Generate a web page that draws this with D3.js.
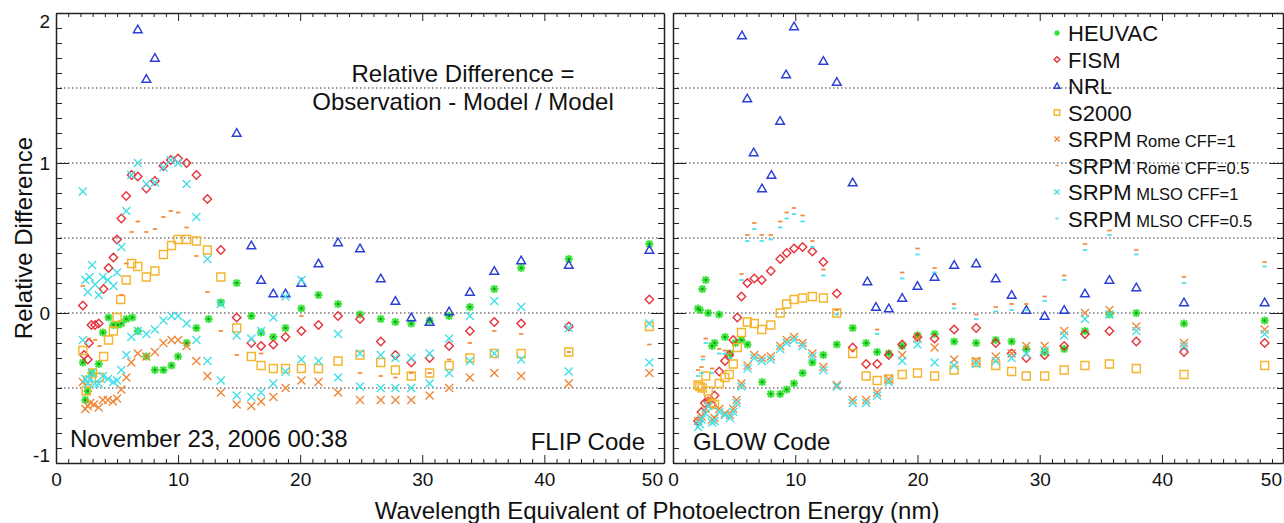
<!DOCTYPE html>
<html>
<head>
<meta charset="utf-8">
<title>Relative Difference</title>
<script src="https://cdn.jsdelivr.net/npm/d3@7"></script>
<style>
    body { margin: 0; background: #fff; }
    svg { display: block; font-family: "Liberation Sans", Arial, sans-serif; }
    .axis path, .axis line { stroke: #222; }
    .axis .domain { stroke-width: 1.5; }
    .axis text { font-size: 19px; fill: #111; }
</style>
</head>
<body>
<svg width="1284" height="523"></svg>
<script>
    // ---- data: [wavelength nm, relative difference] ----
    // FLIP code panel
    var flipHeuvac = [[2.2,-0.33],[2.4,-0.58],[2.6,-0.52],[2.9,-0.40],[3.5,-0.34],[3.84,-0.13],[4.3,-0.03],[4.7,-0.08],[5.07,-0.08],[5.35,-0.07],[5.76,-0.04],[6.25,-0.03],[6.7,-0.12],[7.4,-0.29],[8.1,-0.38],[8.8,-0.38],[9.46,-0.35],[10.0,-0.29],[10.7,-0.20],[11.5,-0.10],[12.5,-0.04],[13.5,0.07],[14.8,0.20],[16.0,-0.02],[16.8,-0.13],[17.8,-0.16],[18.8,-0.10],[20.1,0.03],[21.5,0.12],[23.1,0.06],[24.9,-0.01],[26.6,-0.04],[27.8,-0.06],[29.1,-0.07],[30.6,-0.05],[32.2,-0.02],[33.9,0.04],[35.9,0.16],[38.1,0.30],[42.0,0.36],[48.6,0.46]];
    var flipFism = [[2.2,0.05],[2.3,-0.28],[2.6,-0.31],[2.7,-0.20],[2.9,-0.08],[3.2,-0.08],[3.5,-0.07],[3.9,0.16],[4.3,0.30],[4.7,0.37],[5.0,0.49],[5.35,0.63],[5.75,0.78],[6.2,0.92],[6.7,0.91],[7.4,0.83],[8.1,0.88],[8.8,0.98],[9.4,1.02],[10.0,1.03],[10.7,1.0],[11.5,0.92],[12.4,0.76],[13.5,0.42],[14.8,-0.03],[16.0,-0.2],[16.8,-0.22],[17.8,-0.21],[18.8,-0.16],[20.1,-0.12],[21.5,-0.08],[23.1,-0.02],[24.9,-0.04],[26.6,-0.19],[27.8,-0.28],[29.1,-0.33],[30.6,-0.30],[32.2,-0.22],[33.9,-0.12],[35.9,-0.06],[38.1,-0.07],[42.0,-0.09],[48.6,0.09]];
    var flipNrl = [[6.7,1.89],[7.4,1.56],[8.1,1.70],[14.8,1.20],[16.0,0.45],[16.8,0.22],[17.8,0.13],[18.8,0.13],[20.1,0.20],[21.5,0.33],[23.1,0.47],[24.9,0.43],[26.6,0.23],[27.8,0.08],[29.1,-0.03],[30.6,-0.06],[32.2,0.01],[33.9,0.14],[35.9,0.28],[38.1,0.35],[42.0,0.32],[48.6,0.42]];
    var flipS2000 = [[2.2,-0.25],[2.47,-0.52],[2.6,-0.45],[3.0,-0.40],[3.55,-0.43],[3.9,-0.29],[4.3,-0.18],[4.7,-0.12],[5.0,-0.03],[5.3,0.09],[5.75,0.22],[6.2,0.33],[6.7,0.31],[7.4,0.24],[8.1,0.28],[8.8,0.39],[9.46,0.45],[10.0,0.49],[10.7,0.49],[11.5,0.48],[12.4,0.42],[13.5,0.24],[14.8,-0.10],[16.0,-0.29],[16.8,-0.35],[17.8,-0.37],[18.8,-0.37],[20.1,-0.37],[21.5,-0.37],[23.1,-0.32],[24.9,-0.28],[26.6,-0.33],[27.8,-0.38],[29.1,-0.42],[30.6,-0.40],[32.2,-0.35],[33.9,-0.30],[35.9,-0.27],[38.1,-0.27],[42.0,-0.26],[48.6,-0.09]];
    var flipRome1 = [[2.2,-0.46],[2.4,-0.64],[2.6,-0.62],[2.8,-0.60],[3.1,-0.61],[3.5,-0.63],[3.84,-0.58],[4.25,-0.58],[4.66,-0.59],[5.0,-0.57],[5.35,-0.51],[5.76,-0.43],[6.17,-0.33],[6.7,-0.27],[7.4,-0.29],[8.1,-0.26],[8.8,-0.20],[9.46,-0.18],[10.0,-0.18],[10.7,-0.22],[11.5,-0.32],[12.4,-0.42],[13.5,-0.53],[14.8,-0.61],[16.0,-0.62],[16.8,-0.59],[17.8,-0.56],[18.8,-0.50],[20.1,-0.45],[21.5,-0.46],[23.1,-0.53],[24.9,-0.58],[26.6,-0.58],[27.8,-0.58],[29.1,-0.58],[30.6,-0.55],[32.2,-0.50],[33.9,-0.43],[35.9,-0.40],[38.1,-0.42],[42.0,-0.47],[48.6,-0.40]];
    var flipRome05 = [[2.2,0.18],[2.7,-0.17],[3.2,-0.18],[3.56,-0.22],[5.35,0.12],[5.76,0.33],[6.2,0.54],[6.7,0.61],[7.4,0.54],[8.1,0.56],[8.8,0.64],[9.4,0.68],[10.0,0.67],[10.7,0.57],[11.5,0.38],[12.4,0.14],[13.5,-0.12],[14.8,-0.28],[16.8,-0.27],[20.1,-0.02],[24.9,-0.40],[26.6,-0.42],[27.8,-0.43],[29.1,-0.40],[30.6,-0.40],[32.2,-0.31],[33.9,-0.20],[35.9,-0.12],[38.1,-0.14],[42.0,-0.26],[48.6,-0.21]];
    var flipMlso1 = [[2.2,-0.18],[2.4,-0.44],[2.6,-0.47],[2.75,-0.44],[2.96,-0.40],[3.2,-0.47],[3.5,-0.47],[3.84,-0.42],[4.25,-0.44],[4.7,-0.46],[5.0,-0.45],[5.35,-0.38],[5.76,-0.28],[6.17,-0.16],[6.7,-0.12],[7.4,-0.14],[8.1,-0.11],[8.8,-0.05],[9.46,-0.02],[10.0,-0.02],[10.7,-0.07],[11.5,-0.18],[12.4,-0.32],[13.5,-0.45],[14.8,-0.55],[16.0,-0.56],[16.8,-0.53],[17.8,-0.47],[18.8,-0.39],[20.1,-0.31],[21.5,-0.32],[23.1,-0.43],[24.9,-0.49],[26.6,-0.50],[27.8,-0.50],[29.1,-0.50],[30.6,-0.47],[32.2,-0.40],[33.9,-0.32],[35.9,-0.27],[38.1,-0.31],[42.0,-0.39],[48.6,-0.33]];
    // second cyan track in the FLIP panel (plotted with the same cross)
    var flipMlsoUpper = [[2.2,0.81],[2.4,0.22],[2.6,0.14],[2.75,0.24],[2.96,0.32],[3.2,0.19],[3.5,0.12],[3.84,0.24],[4.25,0.22],[4.7,0.18],[5.0,0.27],[5.35,0.44],[5.76,0.68],[6.17,0.92],[6.7,1.0],[7.4,0.86],[8.1,0.87],[8.8,0.97],[9.4,1.02],[10.0,1.0],[10.7,0.86],[11.5,0.64],[12.4,0.36],[13.5,0.06],[14.8,-0.15],[16.0,-0.17],[16.8,-0.12],[17.8,-0.03],[18.8,0.11],[20.1,0.22],[23.1,-0.14],[24.9,-0.27],[26.6,-0.28],[27.8,-0.30],[29.1,-0.30],[30.6,-0.27],[32.2,-0.17],[33.9,-0.02],[35.9,0.08],[38.1,0.04],[42.0,-0.10],[48.6,-0.07]];

    // GLOW code panel
    var glowHeuvac = [[2.05,0.03],[2.2,0.02],[2.4,0.16],[2.68,0.22],[2.88,0.0],[3.2,-0.22],[3.4,-0.20],[3.78,-0.01],[4.25,-0.16],[4.66,-0.27],[5.1,-0.20],[5.6,-0.18],[6.1,-0.21],[7.3,-0.46],[8.0,-0.54],[8.77,-0.54],[9.3,-0.51],[9.9,-0.47],[10.6,-0.40],[11.4,-0.33],[12.3,-0.28],[13.4,-0.21],[14.7,-0.10],[15.8,-0.20],[16.7,-0.26],[17.65,-0.27],[18.75,-0.22],[20.0,-0.15],[21.4,-0.14],[23.0,-0.19],[24.8,-0.20],[26.4,-0.18],[27.7,-0.19],[28.9,-0.24],[30.4,-0.26],[32.0,-0.24],[33.7,-0.12],[35.7,-0.01],[37.9,0.0],[41.8,-0.07],[48.4,-0.05]];
    var glowFism = [[2.05,-0.72],[2.33,-0.66],[2.6,-0.60],[2.88,-0.59],[3.15,-0.61],[3.4,-0.55],[3.78,-0.39],[4.25,-0.32],[4.6,-0.28],[4.93,-0.18],[5.26,-0.03],[5.6,0.11],[6.08,0.20],[6.65,0.23],[7.26,0.22],[8.0,0.28],[8.77,0.36],[9.3,0.40],[9.9,0.43],[10.6,0.44],[11.4,0.41],[12.3,0.34],[13.4,0.13],[14.7,-0.23],[15.8,-0.34],[16.7,-0.34],[17.65,-0.28],[18.75,-0.21],[20.0,-0.16],[21.4,-0.17],[23.0,-0.11],[24.8,-0.10],[26.4,-0.20],[27.7,-0.27],[28.9,-0.30],[30.4,-0.28],[32.0,-0.22],[33.7,-0.14],[35.7,-0.12],[37.9,-0.19],[41.8,-0.26],[48.4,-0.20]];
    var glowNrl = [[5.64,1.85],[6.07,1.43],[6.6,1.07],[7.28,0.83],[8.05,0.92],[8.76,1.28],[9.25,1.59],[9.9,1.91],[12.3,1.68],[13.4,1.54],[14.7,0.87],[15.9,0.21],[16.6,0.04],[17.65,0.03],[18.75,0.10],[20.0,0.18],[21.4,0.24],[23.0,0.32],[24.8,0.33],[26.4,0.23],[27.7,0.12],[28.9,0.02],[30.4,-0.02],[32.0,0.02],[33.7,0.13],[35.7,0.22],[37.9,0.17],[41.8,0.07],[48.4,0.07]];
    var glowS2000 = [[2.05,-0.48],[2.2,-0.49],[2.4,-0.50],[2.68,-0.42],[2.88,-0.52],[3.15,-0.60],[3.4,-0.61],[3.78,-0.47],[4.25,-0.43],[4.6,-0.41],[4.93,-0.34],[5.26,-0.23],[5.6,-0.13],[6.08,-0.06],[6.65,-0.07],[7.26,-0.11],[8.0,-0.08],[8.77,0.0],[9.3,0.06],[9.9,0.09],[10.6,0.10],[11.4,0.11],[12.3,0.10],[13.4,0.0],[14.7,-0.27],[15.8,-0.42],[16.7,-0.45],[17.65,-0.44],[18.75,-0.41],[20.0,-0.40],[21.4,-0.42],[23.0,-0.38],[24.8,-0.33],[26.4,-0.35],[27.7,-0.39],[28.9,-0.42],[30.4,-0.42],[32.0,-0.38],[33.7,-0.35],[35.7,-0.34],[37.9,-0.37],[41.8,-0.41],[48.4,-0.35]];
    var glowRome1 = [[2.05,-0.72],[2.33,-0.69],[2.68,-0.64],[2.88,-0.58],[3.2,-0.71],[3.4,-0.70],[3.78,-0.64],[4.25,-0.67],[4.66,-0.68],[4.93,-0.64],[5.2,-0.58],[5.6,-0.47],[6.1,-0.35],[6.65,-0.28],[7.26,-0.30],[8.0,-0.29],[8.77,-0.22],[9.3,-0.18],[9.9,-0.16],[10.6,-0.20],[11.4,-0.27],[12.3,-0.36],[13.4,-0.48],[14.7,-0.58],[15.8,-0.58],[16.7,-0.53],[17.65,-0.44],[18.75,-0.28],[20.0,-0.17],[21.4,-0.23],[23.0,-0.31],[24.8,-0.32],[26.4,-0.29],[27.7,-0.27],[28.9,-0.22],[30.4,-0.22],[32.0,-0.12],[33.7,0.0],[35.7,0.02],[37.9,-0.09],[41.8,-0.20],[48.4,-0.11]];
    var glowRome05 = [[2.05,-0.38],[2.33,-0.36],[2.45,-0.29],[2.68,-0.17],[3.2,-0.37],[3.78,-0.24],[4.25,-0.25],[4.66,-0.27],[5.6,0.26],[6.08,0.52],[6.65,0.60],[7.26,0.52],[8.0,0.52],[8.77,0.61],[9.3,0.67],[9.9,0.70],[10.6,0.65],[11.4,0.48],[12.3,0.29],[13.4,0.02],[16.7,-0.11],[18.75,0.27],[20.0,0.43],[21.4,0.30],[23.0,0.06],[24.8,-0.01],[26.4,0.04],[27.7,0.06],[28.9,0.06],[30.4,0.11],[32.0,0.25],[33.7,0.46],[35.7,0.55],[37.9,0.42],[41.8,0.24],[48.4,0.34]];
    var glowMlso1 = [[2.05,-0.76],[2.2,-0.74],[2.33,-0.71],[2.68,-0.67],[2.88,-0.62],[3.2,-0.73],[3.4,-0.72],[3.78,-0.66],[4.25,-0.68],[4.66,-0.70],[4.93,-0.66],[5.2,-0.60],[5.6,-0.49],[6.1,-0.37],[6.65,-0.30],[7.26,-0.32],[8.0,-0.31],[8.77,-0.24],[9.3,-0.20],[9.9,-0.18],[10.6,-0.22],[11.4,-0.29],[12.3,-0.38],[13.4,-0.49],[14.7,-0.60],[15.8,-0.60],[16.7,-0.55],[17.65,-0.46],[18.75,-0.32],[20.0,-0.21],[21.4,-0.33],[23.0,-0.35],[24.8,-0.34],[26.4,-0.32],[27.7,-0.30],[28.9,-0.27],[30.4,-0.25],[32.0,-0.15],[33.7,-0.04],[35.7,-0.01],[37.9,-0.12],[41.8,-0.22],[48.4,-0.14]];
    var glowMlso05 = [[2.05,-0.42],[2.33,-0.40],[2.45,-0.31],[2.68,-0.20],[3.2,-0.40],[3.78,-0.27],[4.25,-0.27],[4.66,-0.30],[5.6,0.22],[6.08,0.48],[6.65,0.56],[7.26,0.48],[8.0,0.49],[8.77,0.57],[9.3,0.63],[9.9,0.66],[10.6,0.61],[11.4,0.44],[12.3,0.25],[13.4,-0.01],[16.7,-0.14],[18.75,0.23],[20.0,0.39],[21.4,0.27],[23.0,0.03],[24.8,-0.04],[26.4,0.01],[27.7,0.02],[28.9,0.02],[30.4,0.08],[32.0,0.22],[33.7,0.42],[35.7,0.52],[37.9,0.39],[41.8,0.20],[48.4,0.31]];

    var xMajor = [0, 10, 20, 30, 40];
    var yMajor = [-1, 0, 1, 2];
    var refLines = [1.5, 1, 0.5, 0, -0.5];

    // ---- styles ----
    var symbols = {
        asterisk: "M-4,0H4M0,-4V4M-3,-3L3,3M-3,3L3,-3",
        diamond: "M0,-4.2L4.2,0L0,4.2L-4.2,0Z",
        triangle: "M0,-4.3L4.4,3.3L-4.4,3.3Z",
        square: "M-4,-4H4V4H-4Z",
        cross: "M-4,-4L4,4M-4,4L4,-4",
        dash: "M-2.2,0H2.2"
    };
    var small = {
        asterisk: "M-2.8,0H2.8M0,-2.8V2.8M-2,-2L2,2M-2,2L2,-2",
        diamond: "M0,-2.8L2.8,0L0,2.8L-2.8,0Z",
        triangle: "M0,-3L3,2.3L-3,2.3Z",
        square: "M-2.7,-2.7H2.7V2.7H-2.7Z",
        cross: "M-2.6,-2.6L2.6,2.6M-2.6,2.6L2.6,-2.6",
        dash: "M-1.6,0H1.6"
    };

    var legendItems = [
        {name: "HEUVAC", sub: "", color: "#35e335", shape: "asterisk"},
        {name: "FISM", sub: "", color: "#e5333b", shape: "diamond"},
        {name: "NRL", sub: "", color: "#2b3fd4", shape: "triangle"},
        {name: "S2000", sub: "", color: "#f4b42c", shape: "square"},
        {name: "SRPM", sub: "Rome CFF=1", color: "#f0883a", shape: "cross"},
        {name: "SRPM", sub: "Rome CFF=0.5", color: "#f0883a", shape: "dash"},
        {name: "SRPM", sub: "MLSO CFF=1", color: "#45dfe8", shape: "cross"},
        {name: "SRPM", sub: "MLSO CFF=0.5", color: "#45dfe8", shape: "dash"}
    ];

    var panels = [
        {x0: 56, x1: 664, xmax: 49.8, label: "FLIP Code", labelX: 645, anchor: "end",
         series: [flipHeuvac, flipFism, flipNrl, flipS2000, flipRome1, flipRome05, flipMlso1, flipMlsoUpper],
         styles: [0, 1, 2, 3, 4, 5, 6, 6]},
        {x0: 673, x1: 1283, xmax: 49.9, label: "GLOW Code", labelX: 693, anchor: "start",
         series: [glowHeuvac, glowFism, glowNrl, glowS2000, glowRome1, glowRome05, glowMlso1, glowMlso05],
         styles: [0, 1, 2, 3, 4, 5, 6, 7]}
    ];

    var svg = d3.select("svg");
    var y = d3.scaleLinear().domain([-1, 2]).range([463, 13]);
    var yMinor = d3.range(-10, 21).map(d => d / 10).filter(d => yMajor.indexOf(d) < 0);

    panels.forEach(function(p, pi) {
        var x = d3.scaleLinear().domain([0, p.xmax]).range([p.x0, p.x1]);
        var xMinor = d3.range(1, 50).filter(d => d % 10 !== 0);
        var g = svg.append("g");

        // dotted reference lines
        g.selectAll("line.ref").data(refLines).join("line")
            .attr("class", "ref")
            .attr("x1", p.x0).attr("x2", p.x1)
            .attr("y1", d => y(d)).attr("y2", d => y(d))
            .attr("stroke", "#333").attr("stroke-width", 1.2)
            .attr("stroke-dasharray", "1.5,2.5");

        // axes: ticks point inwards on all four sides
        g.append("g").attr("class", "axis").attr("transform", "translate(0,463)")
            .call(d3.axisBottom(x).tickValues(xMinor).tickSize(-4).tickSizeOuter(0).tickFormat(""));
        var bMaj = g.append("g").attr("class", "axis").attr("transform", "translate(0,463)")
            .call(d3.axisBottom(x).tickValues(xMajor).tickSize(-8).tickSizeOuter(0).tickPadding(10).tickFormat(d => String(d)));
        bMaj.select(".domain").remove();
        // "50" sits at the right edge of the frame
        bMaj.append("text").attr("x", p.x1 - 1).attr("y", 10).attr("dy", "0.71em")
            .attr("text-anchor", "end").attr("fill", "#111").style("font-size", "19px").text("50");

        g.append("g").attr("class", "axis").attr("transform", "translate(0,13)")
            .call(d3.axisTop(x).tickValues(xMinor).tickSize(-4).tickSizeOuter(0).tickFormat(""));
        g.append("g").attr("class", "axis").attr("transform", "translate(0,13)")
            .call(d3.axisTop(x).tickValues(xMajor).tickSize(-8).tickSizeOuter(0).tickFormat(""))
            .select(".domain").remove();

        g.append("g").attr("class", "axis").attr("transform", "translate(" + p.x0 + ",0)")
            .call(d3.axisLeft(y).tickValues(yMinor).tickSize(-6).tickSizeOuter(0).tickFormat(""));
        var lMaj = g.append("g").attr("class", "axis").attr("transform", "translate(" + p.x0 + ",0)")
            .call(d3.axisLeft(y).tickValues(yMajor).tickSize(-13).tickSizeOuter(0).tickPadding(6)
                .tickFormat(d => pi === 0 ? String(d) : ""));
        lMaj.select(".domain").remove();
        lMaj.selectAll(".tick text").attr("dy", d => d === 2 ? "0.75em" : d === -1 ? "-0.1em" : "0.32em");

        g.append("g").attr("class", "axis").attr("transform", "translate(" + p.x1 + ",0)")
            .call(d3.axisRight(y).tickValues(yMinor).tickSize(-6).tickSizeOuter(0).tickFormat(""));
        g.append("g").attr("class", "axis").attr("transform", "translate(" + p.x1 + ",0)")
            .call(d3.axisRight(y).tickValues(yMajor).tickSize(-13).tickSizeOuter(0).tickFormat(""))
            .select(".domain").remove();

        // markers
        p.series.forEach(function(data, si) {
            var st = legendItems[p.styles[si]];
            var marks = g.append("g")
                .attr("fill", "none").attr("stroke", st.color)
                .attr("stroke-width", st.shape === "dash" ? 1.7 : (st.shape === "asterisk" ? 1.9 : 1.4));
            marks.selectAll("path").data(data).join("path")
                .attr("transform", d => "translate(" + x(d[0]) + "," + y(d[1]) + ")")
                .attr("d", symbols[st.shape]);
            if (st.shape === "asterisk") {
                marks.selectAll("circle").data(data).join("circle")
                    .attr("cx", d => x(d[0])).attr("cy", d => y(d[1])).attr("r", 1.2)
                    .attr("fill", "#15951a").attr("stroke", "none");
            }
        });

        g.append("text").attr("x", p.labelX).attr("y", 450).attr("text-anchor", p.anchor)
            .style("font-size", "24px").attr("fill", "#111").text(p.label);
    });

    // annotations in the FLIP panel
    svg.append("text").attr("x", 463).attr("y", 82).attr("text-anchor", "middle")
        .style("font-size", "24px").attr("fill", "#111").text("Relative Difference =");
    svg.append("text").attr("x", 463).attr("y", 110).attr("text-anchor", "middle")
        .style("font-size", "24px").attr("fill", "#111").text("Observation - Model / Model");
    svg.append("text").attr("x", 70).attr("y", 447)
        .style("font-size", "24px").attr("fill", "#111").text("November 23, 2006 00:38");

    // legend in the GLOW panel
    var legend = svg.append("g").attr("transform", "translate(1057,33)");
    var rows = legend.selectAll("g").data(legendItems).join("g")
        .attr("transform", (d, i) => "translate(0," + (i * 26.5) + ")");
    rows.append("path").attr("d", d => small[d.shape]).attr("fill", "none")
        .attr("stroke", d => d.color).attr("stroke-width", 1.4);
    var lt = rows.append("text").attr("x", 11).attr("y", 8).attr("fill", "#111");
    lt.append("tspan").style("font-size", "22px").text(d => d.name);
    lt.append("tspan").style("font-size", "16.5px").text(d => d.sub ? " " + d.sub : "");

    // axis titles
    svg.append("text").attr("transform", "translate(32,238) rotate(-90)").attr("text-anchor", "middle")
        .style("font-size", "24px").attr("fill", "#111").text("Relative Difference");
    svg.append("text").attr("x", 657).attr("y", 519).attr("text-anchor", "middle")
        .style("font-size", "24px").attr("fill", "#111").text("Wavelength Equivalent of Photoelectron Energy (nm)");
</script>
</body>
</html>
